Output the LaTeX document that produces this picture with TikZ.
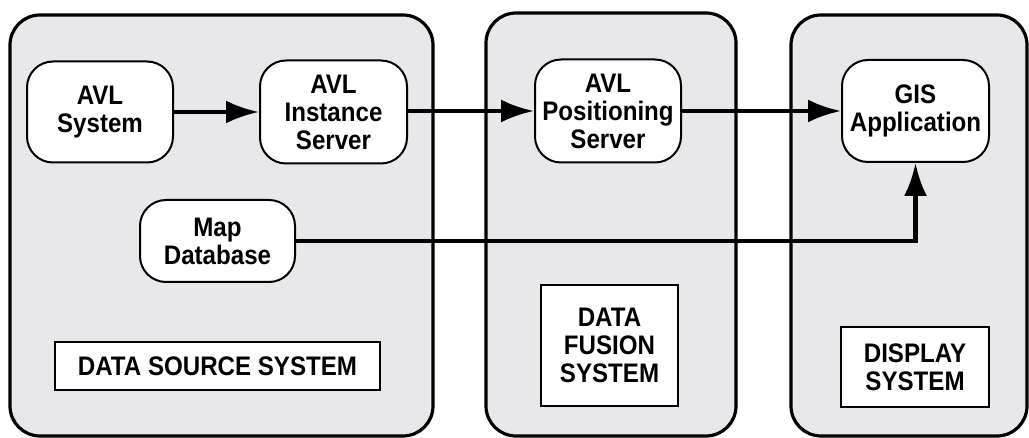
\documentclass[tikz,border=0pt]{standalone}
\usepackage{fontspec}
\setmainfont{Liberation Sans}[FakeStretch=0.9]
\usetikzlibrary{arrows.meta}
\definecolor{panelgray}{RGB}{232,232,234}

\begin{document}
\begin{tikzpicture}[x=0.5pt,y=-0.5pt,
    panel/.style={draw,line width=1.6pt,fill=panelgray,rounded corners=15pt},
    unit/.style={draw,line width=1pt,fill=white,rounded corners=13pt,align=center,
      inner sep=0pt,font=\bfseries\fontsize{13.4pt}{14pt}\selectfont},
    tag/.style={draw,line width=0.9pt,fill=white,align=center,
      inner sep=0pt,font=\bfseries\fontsize{13.4pt}{14pt}\selectfont},
    flow/.style={line width=2.1pt,-{Latex[length=16.5pt,width=11.5pt]}}]
  \useasboundingbox (0,0) rectangle (1029,438);
  % the three subsystems
  \draw[panel] (10,15) rectangle (433,436);
  \draw[panel] (486,13) rectangle (736,436);
  \draw[panel] (791,15) rectangle (1027,436);
  % data source side
  \node[unit,minimum width=73pt,minimum height=50.5pt] (avlsys) at (100,112) {AVL\\System};
  \node[unit,minimum width=73.5pt,minimum height=51.5pt] (avlinst) at (333.5,112) {AVL\\Instance\\Server};
  \node[unit,minimum width=77.5pt,minimum height=41pt] (mapdb) at (217.5,241) {Map\\Database};
  \node[tag,minimum width=162.5pt,minimum height=24pt] (srctag) at (217.5,366) {DATA SOURCE SYSTEM};
  % fusion and display
  \node[unit,minimum width=73pt,minimum height=51.5pt] (avlpos) at (608,111) {AVL\\Positioning\\Server};
  \node[tag,minimum width=68.5pt,minimum height=60.5pt] (fustag) at (609.5,345.5) {DATA\\FUSION\\SYSTEM};
  \node[unit,minimum width=73.5pt,minimum height=51pt] (gisapp) at (915.5,111) {GIS\\Application};
  \node[tag,minimum width=74pt,minimum height=40pt] (disptag) at (915,367) {DISPLAY\\SYSTEM};
  % data flow
  \draw[flow] (avlsys) -- (avlinst);
  \draw[flow] (avlinst.east |- avlpos.west) -- (avlpos);
  \draw[flow] (avlpos) -- (gisapp);
  \draw[flow] (mapdb.east) -| (gisapp.south);
\end{tikzpicture}
\end{document}
